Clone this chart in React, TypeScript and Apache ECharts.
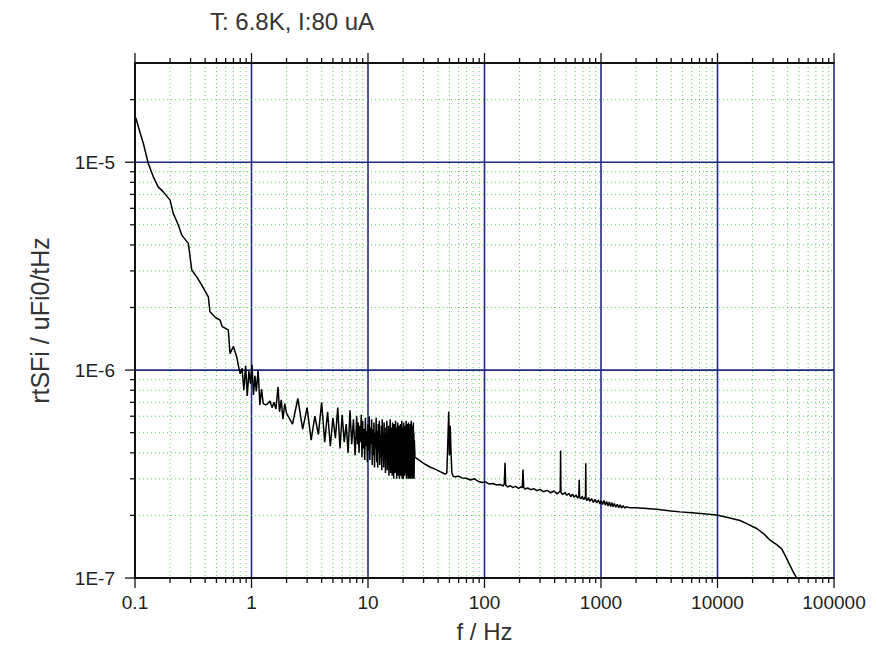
import React, { useEffect, useRef } from 'react';
import * as echarts from 'echarts';

const titleText = 'T: 6.8K, I:80 uA';
const xName = 'f / Hz';
const yName = 'rtSFi / uFi0/tHz';
const xRange = [0.1, 100000];
const yRange = [1e-7, 3e-5];
const xDecades = [0.1, 1, 10, 100, 1000, 10000, 100000];
const yDecades = [1e-7, 1e-6, 1e-5];
const minorMultipliers = [2, 3, 4, 5, 6, 7, 8, 9];

// smooth 1/f part, 0.1 Hz .. 0.8 Hz
const lowSpectrum: [number, number][] = [
  [0.1, 1.66e-5], [0.102, 1.62e-5], [0.11, 1.4e-5], [0.118, 1.23e-5], [0.13, 9.86e-6],
  [0.145, 8.4e-6], [0.158, 7.61e-6], [0.175, 7.2e-6], [0.2, 6.57e-6], [0.213, 5.67e-6],
  [0.235, 5.0e-6], [0.252, 4.46e-6], [0.287, 4.07e-6], [0.307, 3.03e-6], [0.34, 2.8e-6],
  [0.374, 2.56e-6], [0.426, 2.25e-6], [0.44, 1.91e-6], [0.486, 1.8e-6], [0.537, 1.74e-6],
  [0.56, 1.62e-6], [0.632, 1.56e-6], [0.654, 1.2e-6], [0.7, 1.3e-6], [0.746, 1.16e-6],
  [0.78, 1.02e-6],
];

// noisy part around 1 Hz
const noiseLow: [number, number][] = [
  [0.8, 9.6e-7], [0.83, 1.02e-6], [0.86, 8.0e-7], [0.89, 1.05e-6], [0.92, 7.5e-7],
  [0.95, 9.9e-7], [0.98, 8.6e-7], [1.01, 1.06e-6], [1.04, 7.6e-7], [1.07, 9.4e-7],
  [1.1, 7.9e-7], [1.14, 1.0e-6], [1.18, 6.8e-7], [1.22, 8.1e-7], [1.26, 6.9e-7],
  [1.32, 6.8e-7], [1.38, 6.9e-7], [1.44, 7.1e-7], [1.5, 6.6e-7], [1.56, 7.0e-7],
  [1.62, 6.5e-7], [1.69, 8.3e-7], [1.74, 6.3e-7], [1.8, 7.2e-7], [1.86, 5.8e-7],
  [1.93, 6.9e-7],
];

// noise band, 2 Hz .. 8 Hz
const noiseBandA: [number, number][] = [
  [2.0, 6.2e-7], [2.25, 5.5e-7], [2.5, 7.3e-7], [2.75, 5.2e-7], [3.0, 6.6e-7], [3.25, 4.6e-7],
  [3.5, 6.0e-7], [3.75, 4.9e-7], [4.0, 7.0e-7], [4.25, 4.5e-7], [4.5, 6.3e-7], [4.75, 4.3e-7],
  [5.0, 5.9e-7], [5.25, 4.7e-7], [5.5, 6.6e-7], [5.75, 4.2e-7], [6.0, 6.1e-7], [6.25, 4.5e-7],
  [6.5, 5.5e-7], [6.75, 4.0e-7], [7.0, 6.4e-7], [7.25, 4.4e-7], [7.5, 5.8e-7], [7.75, 3.9e-7],
];

// dense noise band, 8 Hz .. 25 Hz
const noiseBandB: [number, number][] = [
  [8.0, 6.0e-7], [8.125, 4.4e-7], [8.25, 5.6e-7], [8.375, 4.0e-7], [8.5, 5.4e-7], [8.625, 4.5e-7], [8.75, 6.1e-7], [8.875, 3.8e-7],
  [9.0, 5.7e-7], [9.125, 4.2e-7], [9.25, 5.2e-7], [9.375, 3.7e-7], [9.5, 5.9e-7], [9.625, 4.3e-7], [9.75, 5.1e-7], [9.875, 3.6e-7],
  [10.0, 5.5e-7], [10.125, 4.1e-7], [10.25, 6.0e-7], [10.375, 3.7e-7], [10.5, 5.3e-7], [10.625, 4.4e-7], [10.75, 5.8e-7], [10.875, 3.5e-7],
  [11.0, 5.2e-7], [11.125, 3.9e-7], [11.25, 5.6e-7], [11.375, 3.4e-7], [11.5, 5.0e-7], [11.625, 4.2e-7], [11.75, 5.9e-7], [11.875, 3.6e-7],
  [12.0, 5.1e-7], [12.125, 3.4e-7], [12.25, 5.5e-7], [12.375, 4.0e-7], [12.5, 5.7e-7], [12.625, 3.5e-7], [12.75, 4.9e-7], [12.875, 3.8e-7],
  [13.0, 5.4e-7], [13.125, 3.3e-7], [13.25, 5.8e-7], [13.375, 3.9e-7], [13.5, 5.0e-7], [13.625, 3.4e-7], [13.75, 5.6e-7], [13.875, 3.7e-7],
  [14.0, 4.9e-7], [14.125, 3.2e-7], [14.25, 5.3e-7], [14.375, 3.9e-7], [14.5, 5.7e-7], [14.625, 3.3e-7], [14.75, 5.0e-7], [14.875, 3.6e-7],
  [15.0, 5.4e-7], [15.125, 3.1e-7], [15.25, 5.1e-7], [15.375, 3.8e-7], [15.5, 5.8e-7], [15.625, 3.2e-7], [15.75, 4.8e-7], [15.875, 3.5e-7],
  [16.0, 5.3e-7], [16.125, 3.1e-7], [16.25, 5.6e-7], [16.375, 3.7e-7], [16.5, 4.9e-7], [16.625, 3.0e-7], [16.75, 5.5e-7], [16.875, 3.4e-7],
  [17.0, 5.0e-7], [17.125, 3.2e-7], [17.25, 5.7e-7], [17.375, 3.6e-7], [17.5, 4.7e-7], [17.625, 3.0e-7], [17.75, 5.3e-7], [17.875, 3.5e-7],
  [18.0, 5.6e-7], [18.125, 3.1e-7], [18.25, 4.9e-7], [18.375, 3.4e-7], [18.5, 5.4e-7], [18.625, 3.0e-7], [18.75, 5.1e-7], [18.875, 3.6e-7],
  [19.0, 5.5e-7], [19.125, 3.1e-7], [19.25, 4.8e-7], [19.375, 3.3e-7], [19.5, 5.7e-7], [19.625, 3.0e-7], [19.75, 5.0e-7], [19.875, 3.5e-7],
  [20.0, 5.3e-7], [20.125, 3.0e-7], [20.25, 5.6e-7], [20.375, 3.4e-7], [20.5, 4.9e-7], [20.625, 3.1e-7], [20.75, 5.4e-7], [20.875, 3.2e-7],
  [21.0, 5.0e-7], [21.125, 3.5e-7], [21.25, 5.7e-7], [21.375, 3.0e-7], [21.5, 4.8e-7], [21.625, 3.3e-7], [21.75, 5.5e-7], [21.875, 3.1e-7],
  [22.0, 5.1e-7], [22.125, 3.0e-7], [22.25, 5.6e-7], [22.375, 3.4e-7], [22.5, 4.9e-7], [22.625, 3.0e-7], [22.75, 5.3e-7], [22.875, 3.2e-7],
  [23.0, 5.5e-7], [23.125, 3.0e-7], [23.25, 4.8e-7], [23.375, 3.4e-7], [23.5, 5.7e-7], [23.625, 3.1e-7], [23.75, 5.0e-7], [23.875, 3.0e-7],
  [24.0, 5.4e-7], [24.125, 3.3e-7], [24.25, 4.9e-7], [24.375, 3.0e-7], [24.5, 5.6e-7], [24.625, 3.2e-7], [24.75, 5.0e-7], [24.875, 3.0e-7],
  [25.0, 4.6e-7],
];

// 25 Hz .. 2 kHz with mains spikes
const midSpectrum: [number, number][] = [
  [25.3, 3.8e-7], [26.2, 3.76e-7], [28, 3.66e-7], [30, 3.56e-7], [34, 3.42e-7], [38, 3.33e-7],
  [42, 3.24e-7], [44, 3.2e-7], [46, 3.16e-7], [47.5, 3.2e-7], [48.5, 4.6e-7], [49.3, 6.3e-7],
  [50, 3.9e-7], [50.8, 5.4e-7], [51.6, 4.0e-7], [52.5, 3.2e-7], [54, 3.08e-7], [56, 3.07e-7],
  [60, 3.09e-7], [64, 3.03e-7], [70, 3.02e-7], [76, 2.96e-7], [82, 3.0e-7], [88, 2.92e-7],
  [95, 2.88e-7], [102, 2.9e-7], [110, 2.83e-7], [118, 2.85e-7], [127, 2.8e-7], [136, 2.82e-7],
  [145, 2.77e-7], [148, 2.85e-7], [150, 3.58e-7], [152, 2.8e-7], [158, 2.74e-7], [166, 2.78e-7],
  [175, 2.72e-7], [185, 2.76e-7], [196, 2.7e-7], [205, 2.74e-7], [211, 2.72e-7], [214, 3.32e-7],
  [217, 2.73e-7], [222, 2.68e-7], [235, 2.71e-7], [250, 2.66e-7], [265, 2.69e-7], [281, 2.63e-7],
  [300, 2.67e-7], [320, 2.6e-7], [345, 2.64e-7], [370, 2.57e-7], [395, 2.62e-7], [420, 2.54e-7],
  [440, 2.6e-7], [447, 2.62e-7], [450, 4.1e-7], [453, 2.58e-7], [470, 2.52e-7], [490, 2.58e-7],
  [508, 2.5e-7], [530, 2.55e-7], [550, 2.46e-7], [570, 2.53e-7], [590, 2.44e-7], [610, 2.51e-7],
  [630, 2.42e-7], [645, 2.48e-7], [650, 2.97e-7], [655, 2.45e-7], [670, 2.4e-7], [690, 2.47e-7],
  [710, 2.38e-7], [728, 2.45e-7], [736, 2.42e-7], [740, 3.56e-7], [744, 2.4e-7], [760, 2.36e-7],
  [780, 2.44e-7], [800, 2.34e-7], [830, 2.41e-7], [860, 2.31e-7], [890, 2.39e-7], [918, 2.3e-7],
  [950, 2.37e-7], [980, 2.27e-7], [1000, 2.35e-7], [1030, 2.26e-7], [1060, 2.36e-7], [1090, 2.24e-7],
  [1120, 2.33e-7], [1150, 2.22e-7], [1180, 2.32e-7], [1210, 2.21e-7], [1240, 2.3e-7], [1270, 2.2e-7],
  [1300, 2.28e-7], [1340, 2.19e-7], [1380, 2.26e-7], [1420, 2.18e-7], [1460, 2.25e-7], [1500, 2.17e-7],
  [1550, 2.23e-7], [1600, 2.17e-7], [1650, 2.2e-7], [1750, 2.18e-7],
];

// high-frequency roll-off
const highSpectrum: [number, number][] = [
  [2000, 2.18e-7], [2466, 2.16e-7], [3000, 2.14e-7], [4000, 2.1e-7], [4764, 2.08e-7],
  [6000, 2.06e-7], [8000, 2.03e-7], [9838, 2.01e-7], [12000, 1.96e-7], [15600, 1.89e-7],
  [18000, 1.82e-7], [21700, 1.73e-7], [25000, 1.63e-7], [28300, 1.52e-7], [32000, 1.45e-7],
  [35600, 1.38e-7], [39000, 1.25e-7], [41900, 1.15e-7], [45000, 1.06e-7], [47800, 1.0e-7],
];

const FONT = '"Liberation Sans", Arial, sans-serif';
const GRID_BLUE = '#1f2a86';
const MINOR_GREEN = 'rgba(40,190,40,0.75)';
const AXIS_BLACK = '#111111';

function buildTicks(decades: number[], maxVal: number) {
  const out: [number, number][] = [];
  decades.forEach((d) => {
    out.push([d, 1]);
    minorMultipliers.forEach((m) => {
      const v = d * m;
      if (v < maxVal * 0.9999) out.push([v, 0]);
    });
  });
  return out;
}

function isDecade(v: number) {
  const l = Math.log10(v);
  return Math.abs(l - Math.round(l)) < 1e-6;
}

export default function App() {
  const ref = useRef<HTMLDivElement>(null);
  useEffect(() => {
    if (!ref.current) return;
    const chart = echarts.init(ref.current, undefined, { renderer: 'svg' });
    const spectrum = [...lowSpectrum, ...noiseLow, ...noiseBandA, ...noiseBandB, ...midSpectrum, ...highSpectrum];
    const xTicks = buildTicks(xDecades, xRange[1]).map(([v, f]) => [v, yRange[0], f]);
    const yTicks = buildTicks(yDecades, yRange[1]).map(([v, f]) => [xRange[0], v, f]);

    const renderXTick = (params: any, api: any) => {
      const v = api.value(0);
      const major = api.value(2) === 1;
      const cs = params.coordSys;
      const px = api.coord([v, yRange[0]])[0];
      const top = cs.y;
      const bottom = cs.y + cs.height;
      const len = major ? 10 : 5;
      const children: any[] = [];
      if (!major) {
        children.push({ type: 'line', shape: { x1: px, y1: top, x2: px, y2: bottom }, style: { stroke: MINOR_GREEN, lineWidth: 1, lineDash: [1, 3] } });
      } else if (v > xRange[0] * 1.0001) {
        children.push({ type: 'line', shape: { x1: px, y1: top, x2: px, y2: bottom }, style: { stroke: GRID_BLUE, lineWidth: 1.6 } });
      }
      children.push({ type: 'line', shape: { x1: px, y1: bottom, x2: px, y2: bottom + len }, style: { stroke: AXIS_BLACK, lineWidth: 1.3 } });
      children.push({ type: 'line', shape: { x1: px, y1: top, x2: px, y2: top - len }, style: { stroke: AXIS_BLACK, lineWidth: 1.3 } });
      return { type: 'group', children };
    };

    const renderYTick = (params: any, api: any) => {
      const v = api.value(1);
      const major = api.value(2) === 1;
      const cs = params.coordSys;
      const py = api.coord([xRange[0], v])[1];
      const left = cs.x;
      const right = cs.x + cs.width;
      const len = major ? 10 : 5;
      const children: any[] = [];
      if (!major) {
        children.push({ type: 'line', shape: { x1: left, y1: py, x2: right, y2: py }, style: { stroke: MINOR_GREEN, lineWidth: 1, lineDash: [1, 3] } });
      } else if (v > yRange[0] * 1.0001) {
        children.push({ type: 'line', shape: { x1: left, y1: py, x2: right, y2: py }, style: { stroke: GRID_BLUE, lineWidth: 1.6 } });
      }
      children.push({ type: 'line', shape: { x1: left - len, y1: py, x2: left, y2: py }, style: { stroke: AXIS_BLACK, lineWidth: 1.3 } });
      return { type: 'group', children };
    };

    const labelStyle = { fontFamily: FONT, fontSize: 19, color: '#222' };

    chart.setOption({
      animation: false,
      backgroundColor: '#ffffff',
      title: {
        text: titleText,
        left: 205,
        top: 4,
        textStyle: { fontFamily: FONT, fontSize: 24, fontWeight: 'normal', color: '#333' },
      },
      grid: { left: 135, top: 63, width: 699, height: 515, containLabel: false },
      xAxis: [
        {
          type: 'log', logBase: 10, min: xRange[0], max: xRange[1], position: 'bottom', z: 10,
          axisLine: { show: true, onZero: false, lineStyle: { color: AXIS_BLACK, width: 2 } },
          axisTick: { show: false }, splitLine: { show: false }, minorTick: { show: false },
          axisLabel: {
            ...labelStyle, margin: 15, showMinLabel: true, showMaxLabel: true,
            formatter: (v: number) => (isDecade(v) ? String(Number(v.toPrecision(6))) : ''),
          },
          name: xName, nameLocation: 'middle', nameGap: 41,
          nameTextStyle: { fontFamily: FONT, fontSize: 24, color: '#333' },
        },
        {
          type: 'log', logBase: 10, min: xRange[0], max: xRange[1], position: 'top', z: 10,
          axisLine: { show: true, onZero: false, lineStyle: { color: AXIS_BLACK, width: 2 } },
          axisTick: { show: false }, splitLine: { show: false }, axisLabel: { show: false },
        },
      ],
      yAxis: [
        {
          type: 'log', logBase: 10, min: yRange[0], max: yRange[1], position: 'left', z: 10,
          axisLine: { show: true, onZero: false, lineStyle: { color: AXIS_BLACK, width: 2 } },
          axisTick: { show: false }, splitLine: { show: false }, minorTick: { show: false },
          axisLabel: {
            ...labelStyle, margin: 20, showMinLabel: true,
            formatter: (v: number) => (isDecade(v) ? `1E${Math.round(Math.log10(v))}` : ''),
          },
          name: yName, nameLocation: 'middle', nameGap: 83,
          nameTextStyle: { fontFamily: FONT, fontSize: 25, color: '#333' },
        },
      ],
      series: [
        {
          type: 'custom', name: 'xticks', xAxisIndex: 0, yAxisIndex: 0, z: 1, silent: true, clip: false,
          dimensions: ['x', 'y', 'major'], encode: { x: 0, y: 1 },
          renderItem: renderXTick, data: xTicks,
        },
        {
          type: 'custom', name: 'yticks', xAxisIndex: 0, yAxisIndex: 0, z: 1, silent: true, clip: false,
          dimensions: ['x', 'y', 'major'], encode: { x: 0, y: 1 },
          renderItem: renderYTick, data: yTicks,
        },
        {
          type: 'line', name: 'rtSFi', xAxisIndex: 0, yAxisIndex: 0, z: 5, data: spectrum,
          showSymbol: false, symbol: 'none', clip: true,
          lineStyle: { color: '#000000', width: 1.5 },
        },
      ],
    });
    return () => chart.dispose();
  }, []);
  return (
    <div
      ref={ref}
      style={{ position: 'absolute', left: 0, top: 0, width: 877, height: 654, background: '#fff' }}
    />
  );
}
